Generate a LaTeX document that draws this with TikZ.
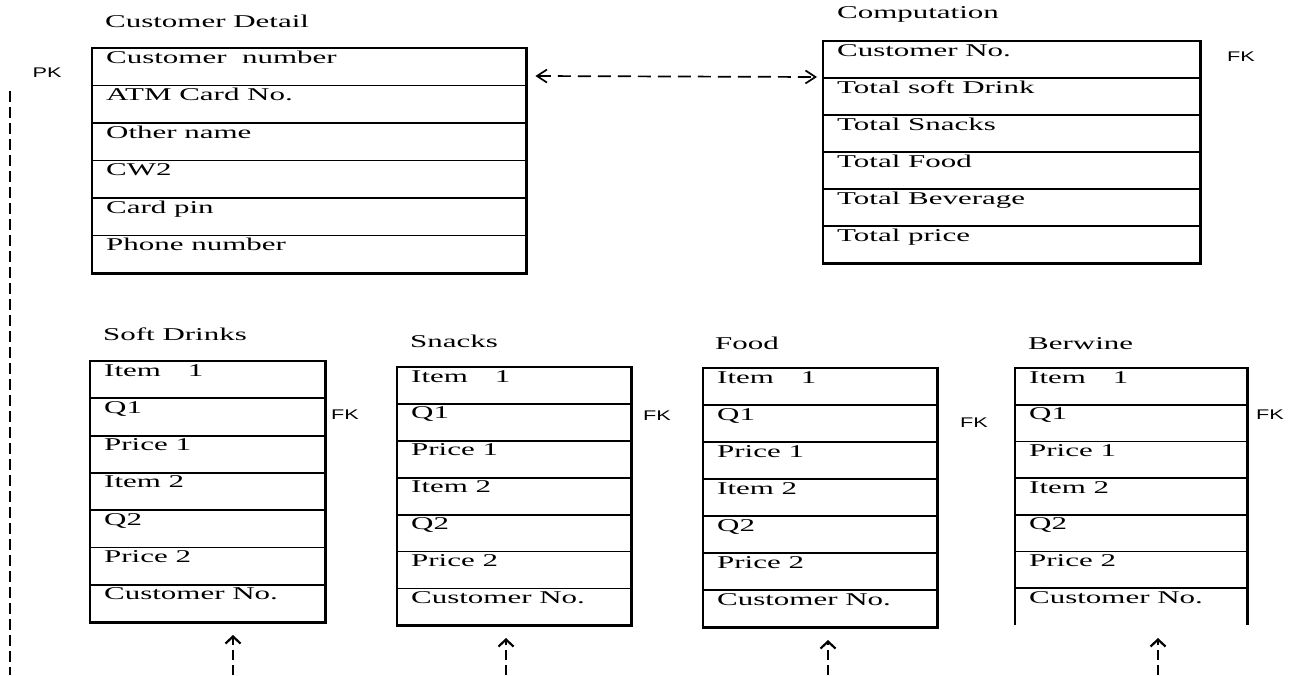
\documentclass[tikz,border=0pt]{standalone}
\usepackage{fontspec}
\setmainfont{Liberation Serif}[FakeStretch=1.72]
\newfontfamily\keyfont{Liberation Sans}[FakeStretch=1.55]
\usetikzlibrary{arrows.meta,calc}
\tikzset{
  cellbox/.style={inner sep=0pt,anchor=north west,minimum width=#1},
  celltext/.style={anchor=base west,inner sep=0pt,font=\fontsize{18}{20}\selectfont},
  keytext/.style={anchor=center,inner sep=0pt,font=\keyfont\fontsize{14}{16}\selectfont},
  frame/.style={line width=2.5pt},
  rowline/.style={line width=1.8pt},
  link/.style={line width=1.7pt,dash pattern=on 13pt off 7pt,{Straight Barb[length=10pt,width=13pt]}-{Straight Barb[length=10pt,width=13pt]}},
  uplink/.style={line width=2.2pt,dash pattern=on 10pt off 5pt,-{Straight Barb[length=7pt,width=15pt]}},
  pkline/.style={line width=2.4pt,dash pattern=on 11pt off 5pt}
}
% #1 name, #2 x, #3 y, #4 width, #5 row height, #6 rows
\newcommand\mytable[6]{%
  \foreach \t [count=\i from 0] in {#6} {
    \node[cellbox=#4pt,minimum height=#5pt] (#1-\i) at (#2,{#3+\i*#5}) {};
    \node[celltext] (#1-t\i) at ($(#1-\i.north west)+(14,15)$) {\t};
    \ifnum\i>0 \draw[rowline] (#1-\i.north west) -- (#1-\i.north east);\fi
  }%
}
\begin{document}
\begin{tikzpicture}[x=1pt,y=-1pt]
\useasboundingbox (0,0) rectangle (1295,675);

% Customer Detail
\node[celltext] (cdT) at (105,27) {Customer Detail};
\mytable{cd}{92}{48}{434}{37.5}{Customer\ \ number,ATM Card No.,Other name,CW2,Card pin,Phone number}
\draw[frame] (cd-0.north west) rectangle (cd-5.south east);

% Computation
\node[celltext] (coT) at (837,18) {Computation};
\mytable{co}{823}{41}{377}{37}{Customer No.,Total soft Drink,Total Snacks,Total Food,Total Beverage,Total price}
\draw[frame] (co-0.north west) rectangle (co-5.south east);

% Soft Drinks
\node[celltext] (sdT) at (103,340) {Soft Drinks};
\mytable{sd}{90}{361}{235}{37.3}{Item\hspace{27pt}1,Q1,Price 1,Item 2,Q2,Price 2,Customer No.}
\draw[frame] (sd-0.north west) rectangle (sd-6.south east);

% Snacks
\node[celltext] (snT) at (410,347) {Snacks};
\mytable{sn}{397}{367}{234}{36.9}{Item\hspace{27pt}1,Q1,Price 1,Item 2,Q2,Price 2,Customer No.}
\draw[frame] (sn-0.north west) rectangle (sn-6.south east);

% Food
\node[celltext] (fdT) at (715,349) {Food};
\mytable{fd}{703}{368}{234}{37}{Item\hspace{27pt}1,Q1,Price 1,Item 2,Q2,Price 2,Customer No.}
\draw[frame] (fd-0.north west) rectangle (fd-6.south east);

% Berwine
\node[celltext] (bwT) at (1028,349) {Berwine};
\mytable{bw}{1015}{368}{232}{36.7}{Item\hspace{27pt}1,Q1,Price 1,Item 2,Q2,Price 2,Customer No.}
\draw[frame] (bw-6.south west) -- (bw-0.north west) -- (bw-0.north east) -- (bw-6.south east);

% keys
\node[keytext] (pk) at (47,73) {PK};
\node[keytext] (fkco) at (1241,57) {FK};
\node[keytext] (fksd) at (345,415) {FK};
\node[keytext] (fksn) at (657,416) {FK};
\node[keytext] (fkfd) at (974,423) {FK};
\node[keytext] (fkbw) at (1270,415) {FK};

% connectors
\draw[link] ($(cd-0.north east)+(9,28)$) -- ($(co-0.north west)+(-6,36)$);

\coordinate (pkTop) at (10,91);
\coordinate (pkBot) at (10,675);
\draw[pkline] (pkTop) -- (pkBot);

\coordinate (sdB) at (233,675); \coordinate (sdA) at (233,635);
\coordinate (snB) at (506,675); \coordinate (snA) at (506,638);
\coordinate (fdB) at (828,675); \coordinate (fdA) at (828,640);
\coordinate (bwB) at (1158,675); \coordinate (bwA) at (1158,638);
\draw[uplink] (sdB) -- (sdA);
\draw[uplink] (snB) -- (snA);
\draw[uplink] (fdB) -- (fdA);
\draw[uplink] (bwB) -- (bwA);
\end{tikzpicture}
\end{document}
